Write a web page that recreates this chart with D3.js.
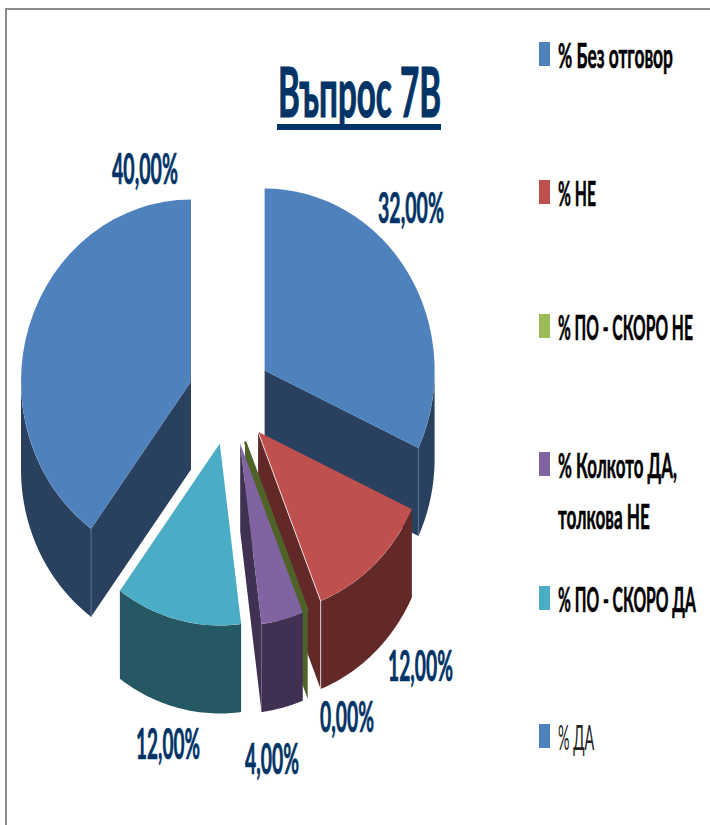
<!DOCTYPE html>
<html>
<head>
<meta charset="utf-8">
<script src="https://cdn.jsdelivr.net/npm/d3@7"></script>
<style>
  html, body { margin: 0; padding: 0; background: #fff; }
  svg { display: block; }
  text { font-family: Lato, "Open Sans", sans-serif; font-weight: 700; }
</style>
</head>
<body>
<svg id="chart" width="710" height="825"></svg>
<script>
// data, in the order the pie runs clockwise from 12 o'clock
const categories = ['% Без отговор', '% НЕ', '% ПО - СКОРО НЕ', '% Колкото ДА, толкова НЕ', '% ПО - СКОРО ДА', '% ДА'];
const values = [32, 12, 0, 4, 12, 40];
const valueLabels = ['32,00%', '12,00%', '0,00%', '4,00%', '12,00%', '40,00%'];
const titleText = 'Въпрос 7В';

// colours
const topColors = ['#4F81BD', '#C0504D', '#9BBB59', '#8064A2', '#4BACC6', '#4F81BD'];
const wallColors = ['#29415F', '#632828', '#4F6228', '#403152', '#265864', '#29415F'];
const sliverColor = '#4F6228';
const textBlue = '#003366';

// layout of the exploded pie
const cx = 230, cy = 396.5, rx = 170, ry = 182, depth = 88;
const explodeX = 41, explodeY = 48.5;

// label placement [x, baseline, width]
const labelBoxes = [[378, 223, 66], [388, 681, 65], [320, 732, 54], [245, 774, 54], [136, 759, 64], [112, 184, 66]];
// legend rows: swatch centre and the width of each wrapped line
const legendRows = [
  { y: 54, lines: [[categories[0], 115]] },
  { y: 192, lines: [[categories[1], 38]] },
  { y: 326, lines: [[categories[2], 135]] },
  { y: 464, lines: [['% Колкото ДА,', 119], ['толкова НЕ', 92]] },
  { y: 598, lines: [[categories[4], 138]] },
  { y: 736, lines: [[categories[5], 37]] }
];

const svg = d3.select('#chart');

// frame round the picture
svg.append('path')
  .attr('d', 'M6,825V9H710')
  .attr('fill', 'none')
  .attr('stroke', '#8c8c8c')
  .attr('stroke-width', 2);

// slices
const arcs = d3.pie().value(d => d).sort(null)(values);
const projX = d3.scaleLinear().domain([-1, 1]).range([-rx, rx]);
const projY = d3.scaleLinear().domain([-1, 1]).range([-ry, ry]);
const line = d3.line();

function apexOf(a) {
  const mid = (a.startAngle + a.endAngle) / 2;
  return [cx + explodeX * Math.sin(mid), cy - explodeY * Math.cos(mid)];
}
function rimPoint(apex, angle) {
  return [apex[0] + projX(Math.sin(angle)), apex[1] + projY(-Math.cos(angle))];
}
const drop = p => [p[0], p[1] + depth];

// draw back to front: both top blues first, then round the front
const drawOrder = [0, 5, 1, 2, 3, 4];
const pieG = svg.append('g');

drawOrder.forEach(i => {
  const a = arcs[i];
  const apex = apexOf(a);
  const g = pieG.append('g');
  const wall = wallColors[i];

  // flat cut walls, seen only where they face the viewer
  [a.endAngle, a.startAngle].forEach((ang, k) => {
    const facing = k === 0 ? Math.sin(ang) > 0 : Math.sin(ang) < 0;
    if (!facing || (k === 1 && a.startAngle === a.endAngle)) return;
    const rim = rimPoint(apex, ang);
    g.append('path')
      .attr('d', line([apex, rim, drop(rim), drop(apex)]) + 'Z')
      .attr('fill', wall);
  });

  // curved outer wall, only the front half of the rim
  const from = Math.max(a.startAngle, Math.PI / 2);
  const to = Math.min(a.endAngle, Math.PI * 1.5);
  if (to > from) {
    const upper = d3.range(0, 41).map(n => rimPoint(apex, from + (to - from) * n / 40));
    g.append('path')
      .attr('d', line(upper.concat(upper.map(drop).reverse())) + 'Z')
      .attr('fill', wall);
    // thin light seam where the wall meets the cut
    const seamAngle = (i === 5) ? a.startAngle : a.endAngle;
    if (i !== 4 && i !== 3 && seamAngle > Math.PI / 2) {
      const s = rimPoint(apex, seamAngle);
      g.append('path')
        .attr('d', line([s, drop(s)]))
        .attr('stroke', i === 1 ? '#d9c9c8' : '#5b7394')
        .attr('stroke-width', 1);
    }
  }

  // top face
  if (a.endAngle > a.startAngle) {
    const arc = d3.arc().innerRadius(0).outerRadius(rx);
    g.append('path')
      .attr('d', arc(a))
      .attr('transform', `translate(${apex[0]},${apex[1]}) scale(1,${ry / rx})`)
      .attr('fill', topColors[i]);
  } else {
    // the zero slice only shows as a thin edge
    g.append('path')
      .attr('d', line([apex, rimPoint(apex, a.startAngle)]))
      .attr('stroke', sliverColor)
      .attr('stroke-width', 2.5);
  }

  // white edge along the red slice
  if (i === 1) {
    g.append('path')
      .attr('d', line([apex, rimPoint(apex, a.endAngle)]))
      .attr('stroke', '#e8dcdb')
      .attr('stroke-width', 1);
  }
});

// squeeze text sideways to a measured width, the original picture is stretched
function fitText(x, y, width, size, color, str, bold) {
  const t = svg.append('text')
    .attr('font-size', size)
    .attr('fill', color)
    .attr('stroke', color)
    .attr('stroke-width', bold)
    .text(str);
  const natural = t.node().getComputedTextLength();
  t.attr('transform', `translate(${x},${y}) scale(${width / natural},1)`);
  return t;
}

// value labels
valueLabels.forEach((t, i) => {
  const [x, y, w] = labelBoxes[i];
  fitText(x, y, w, 42, textBlue, t, 0.7);
});

// title
fitText(278, 117, 163, 68, textBlue, titleText, 1.2);
svg.append('rect')
  .attr('x', 277).attr('y', 124)
  .attr('width', 164).attr('height', 6)
  .attr('fill', textBlue);

// legend
legendRows.forEach((row, i) => {
  svg.append('rect')
    .attr('x', 539).attr('y', row.y - 12)
    .attr('width', 11).attr('height', 24)
    .attr('fill', topColors[i]);
  row.lines.forEach((l, k) => {
    const last = i === legendRows.length - 1;
    fitText(558, row.y + 14 + k * 51, l[1], 35, last ? '#222' : '#000', l[0], last ? 0 : 0.6)
      .style('font-weight', last ? 400 : 700);
  });
});
</script>
</body>
</html>
